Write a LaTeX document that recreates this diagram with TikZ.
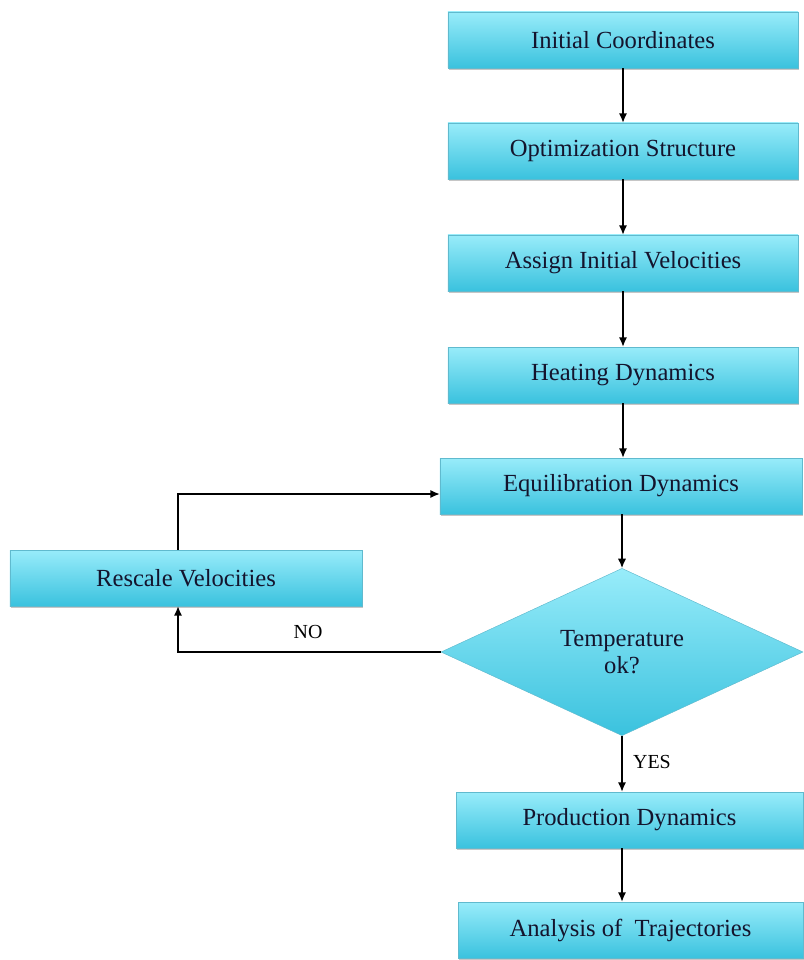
\documentclass[tikz,border=0pt]{standalone}
\usepackage{fontspec}
\setmainfont{Liberation Serif}
\usetikzlibrary{shapes.geometric,shadows,arrows.meta}

\definecolor{boxtop}{RGB}{152,236,250}
\definecolor{boxbot}{RGB}{58,194,222}
\definecolor{boxline}{RGB}{96,186,206}
\definecolor{boxtext}{RGB}{20,20,45}

\begin{document}
\begin{tikzpicture}[x=0.03cm,y=-0.03cm,
    stepbox/.style={rectangle, draw=boxline, thin, top color=boxtop, bottom color=boxbot,
      minimum height=1.68cm, inner sep=0pt, text=boxtext, font=\fontsize{21}{24}\selectfont,
      drop shadow={shadow xshift=0.5pt, shadow yshift=-2pt, opacity=0.45}},
    decision/.style={diamond, draw=boxline, thin, top color=boxtop, bottom color=boxbot,
      minimum width=10.86cm, minimum height=4.95cm, inner sep=0pt, align=center,
      text=boxtext, font=\fontsize{21}{23}\selectfont},
    flow/.style={-{Latex[length=8pt,width=7pt]}, line width=1.2pt},
    answer/.style={font=\fontsize{17}{20}\selectfont}]
    \useasboundingbox (0,0) rectangle (803,960);

    % Main column of steps
    \node[stepbox, minimum width=10.5cm] (init) at (623,40) {Initial Coordinates};
    \node[stepbox, minimum width=10.5cm] (optim) at (623,151) {Optimization Structure};
    \node[stepbox, minimum width=10.5cm] (assign) at (623,263) {Assign Initial Velocities};
    \node[stepbox, minimum width=10.5cm] (heat) at (623,375) {Heating Dynamics};
    \node[stepbox, minimum width=10.86cm] (equil) at (621,486) {Equilibration Dynamics};

    % Temperature check and the rescaling loop
    \node[decision] (temp) at (622,652) {Temperature\\ok?};
    \node[stepbox, minimum width=10.56cm] (rescale) at (186,578) {Rescale Velocities};

    % Production and analysis
    \node[stepbox, minimum width=10.41cm] (prod) at (629.5,820) {Production Dynamics};
    \node[stepbox, minimum width=10.35cm] (anal) at (630.5,930) {Analysis of~ Trajectories};

    % Connectors
    \draw[flow] (init) -- (optim);
    \draw[flow] (optim) -- (assign);
    \draw[flow] (assign) -- (heat);
    \draw[flow] (heat.south) -- (heat.south |- equil.north);
    \draw[flow] (temp.north |- equil.south) -- (temp.north);
    \draw[flow] (temp.south) -- (temp.south |- prod.north);
    \draw[flow] (temp.south |- prod.south) -- (temp.south |- anal.north);

    \coordinate (loopx) at (178,0);
    \draw[flow] (temp.west) -| (rescale.south -| loopx);
    \draw[flow] (rescale.north -| loopx) |- ([yshift=-0.24cm]equil.west);

    \node[answer] (no) at (308,632) {NO};
    \node[answer] (yes) at (652,762) {YES};
\end{tikzpicture}
\end{document}
